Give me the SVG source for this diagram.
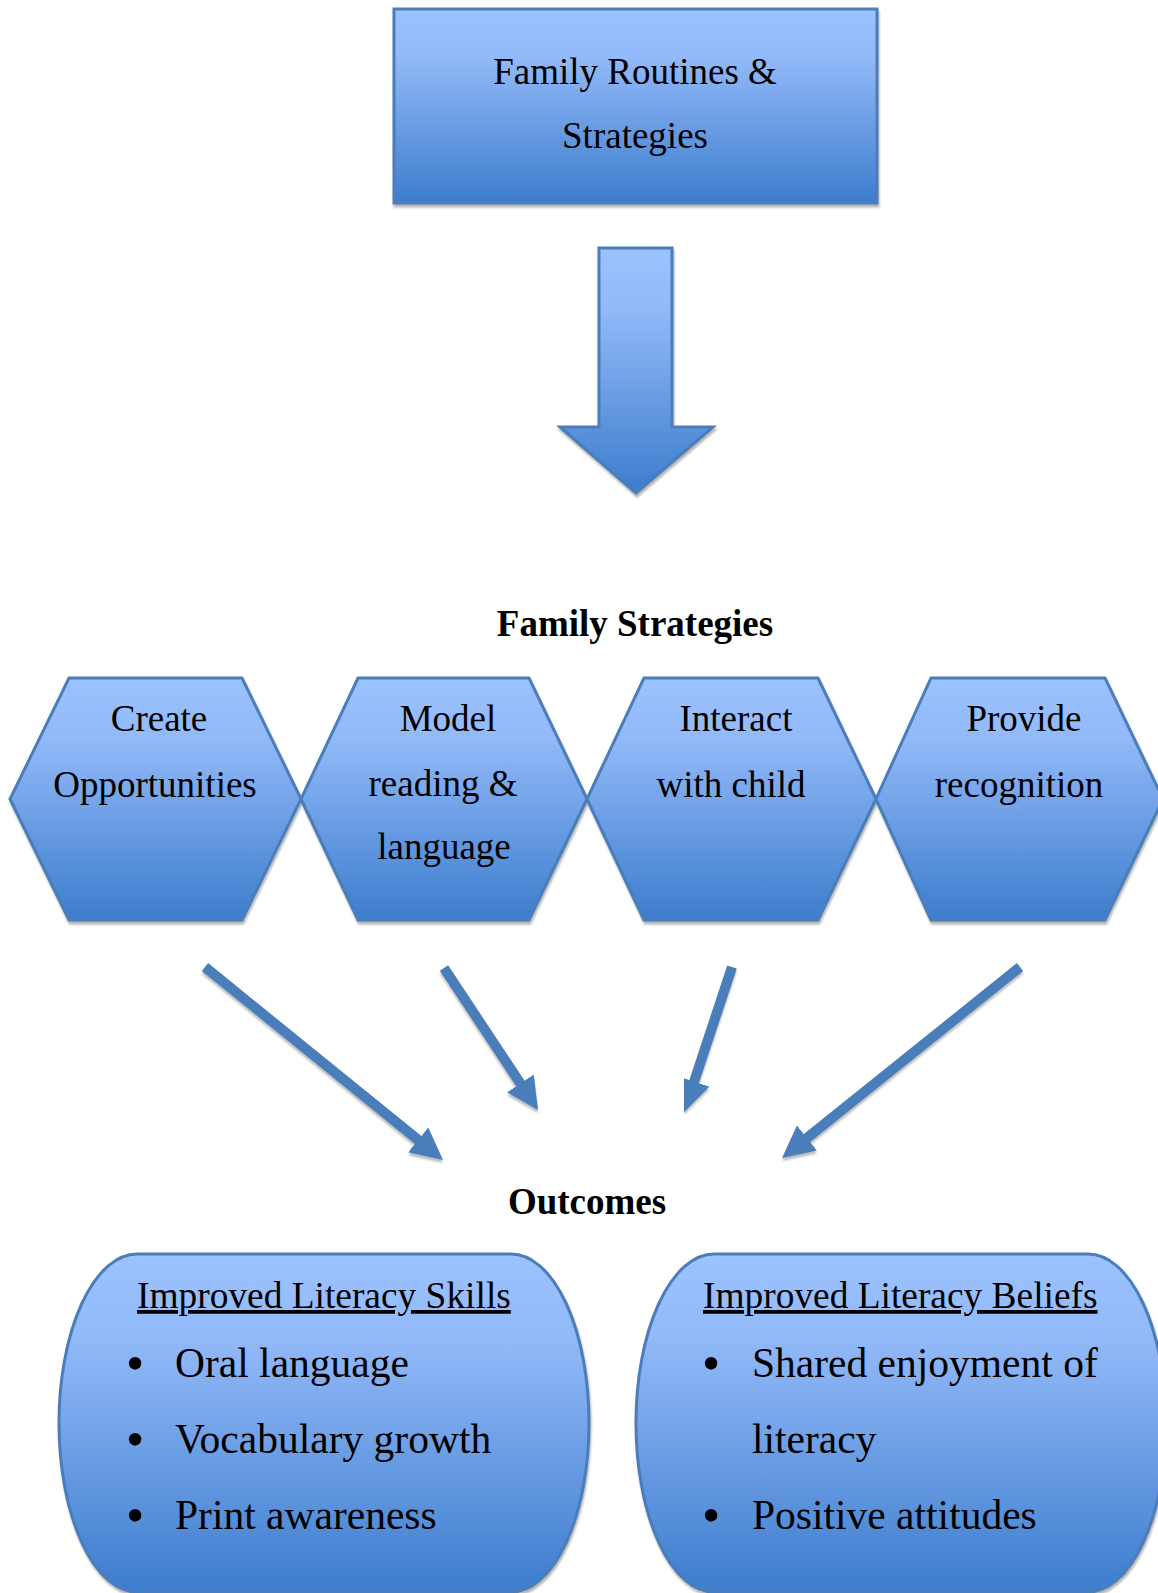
<svg xmlns="http://www.w3.org/2000/svg" width="1158" height="1593" viewBox="0 0 1158 1593">
<style>
.shape{fill:url(#grad);stroke:#4A7EBB;stroke-width:3;filter:url(#sh)}
.t{font-family:"Liberation Serif","Times New Roman",serif;font-size:37px;fill:#000;text-anchor:middle}
.b{font-family:"Liberation Serif","Times New Roman",serif;font-size:37px;font-weight:bold;fill:#000;text-anchor:middle}
.l{font-family:"Liberation Serif","Times New Roman",serif;font-size:41.5px;fill:#000}
.bu{font-family:"Liberation Serif","Times New Roman",serif;font-size:52px;fill:#000;text-anchor:middle}
.h{font-family:"Liberation Serif","Times New Roman",serif;font-size:37.4px;fill:#000;text-decoration:underline}
.conn{stroke:#4A7EBB;stroke-width:10;fill:none;marker-end:url(#ah);filter:url(#sh2)}
</style>
<defs>
<linearGradient id="grad" x1="0" y1="0" x2="0" y2="1">
<stop offset="0" stop-color="#9CC2FF"/>
<stop offset="0.25" stop-color="#92B9F8"/>
<stop offset="1" stop-color="#3D7DCD"/>
</linearGradient>
<filter id="sh" x="-5%" y="-5%" width="115%" height="115%">
<feDropShadow dx="1" dy="3" stdDeviation="1" flood-color="#777" flood-opacity="0.55"/>
</filter>
<filter id="sh2" x="-10%" y="-10%" width="130%" height="130%">
<feDropShadow dx="0" dy="3" stdDeviation="1" flood-color="#777" flood-opacity="0.5"/>
</filter>
<marker id="ah" markerUnits="userSpaceOnUse" viewBox="0 0 32 32" markerWidth="32" markerHeight="32" refX="16" refY="16" orient="auto">
<path d="M0,0 L32,16 L0,32 Z" fill="#4A7EBB"/>
</marker>
</defs>

<g id="top-box">
<rect class="shape" x="394" y="9" width="483" height="194"/>
<text class="t" x="635" y="84">Family Routines &amp;</text>
<text class="t" x="635" y="148">Strategies</text>
</g>

<g id="down-arrow">
<path class="shape" d="M599,248 H672 V427 H713 L636,493 L560,427 H599 Z"/>
</g>

<g id="title-strategies">
<text class="b" x="635" y="636">Family Strategies</text>
</g>

<g id="hex-create">
<path class="shape" d="M69,678 H242 L301,799 L242,920 H69 L10,799 Z"/>
<text class="t" x="159" y="731">Create</text>
<text class="t" x="155" y="797">Opportunities</text>
</g>
<g id="hex-model">
<path class="shape" d="M358,678 H529 L587,799 L529,920 H358 L301,799 Z"/>
<text class="t" x="448" y="731">Model</text>
<text class="t" x="443" y="796">reading &amp;</text>
<text class="t" x="444" y="859">language</text>
</g>
<g id="hex-interact">
<path class="shape" d="M644,678 H818 L876,799 L818,920 H644 L587,799 Z"/>
<text class="t" x="736" y="731">Interact</text>
<text class="t" x="731" y="797">with child</text>
</g>
<g id="hex-provide">
<path class="shape" d="M931,678 H1105 L1163,799 L1105,920 H931 L876,799 Z"/>
<text class="t" x="1024" y="731">Provide</text>
<text class="t" x="1019" y="797">recognition</text>
</g>

<g id="connectors">
<line class="conn" x1="205" y1="967" x2="430.6" y2="1150.0"/>
<line class="conn" x1="444" y1="968" x2="529.2" y2="1096.7"/>
<line class="conn" x1="732" y1="967" x2="689.1" y2="1096.8"/>
<line class="conn" x1="1020" y1="967" x2="794.5" y2="1148.0"/>
</g>

<g id="title-outcomes">
<text class="b" x="587" y="1214">Outcomes</text>
</g>

<g id="skills">
<path class="shape" d="M137,1254 H511 A78,169 0 0 1 511,1592 H137 A78,169 0 0 1 137,1254 Z"/>
<text class="h" x="137" y="1308">Improved Literacy Skills</text>
<text class="bu" x="135" y="1381">•</text>
<text class="l" x="175" y="1377">Oral language</text>
<text class="bu" x="135" y="1457">•</text>
<text class="l" x="175" y="1453">Vocabulary growth</text>
<text class="bu" x="135" y="1533">•</text>
<text class="l" x="175" y="1529">Print awareness</text>
</g>

<g id="beliefs">
<path class="shape" d="M714,1254 H1088 A78,169 0 0 1 1088,1592 H714 A78,169 0 0 1 714,1254 Z"/>
<text class="h" x="703" y="1308">Improved Literacy Beliefs</text>
<text class="bu" x="711" y="1381">•</text>
<text class="l" x="752" y="1377">Shared enjoyment of</text>
<text class="l" x="752" y="1453">literacy</text>
<text class="bu" x="711" y="1533">•</text>
<text class="l" x="752" y="1529">Positive attitudes</text>
</g>
</svg>
